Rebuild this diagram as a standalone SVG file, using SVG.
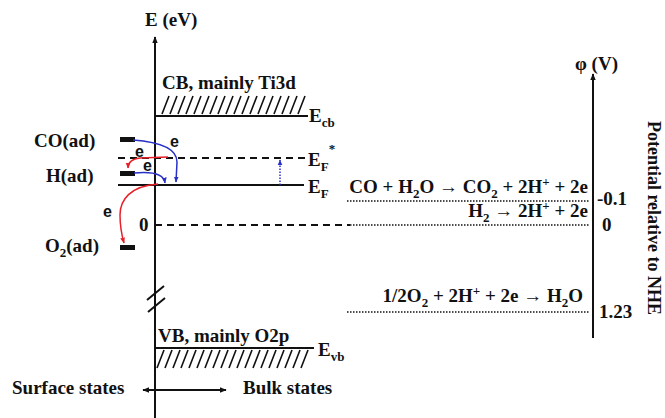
<svg xmlns="http://www.w3.org/2000/svg" width="665" height="418" viewBox="0 0 665 418">
<style>
text{font-family:"Liberation Serif","Times New Roman",serif;font-weight:bold;font-size:19px;fill:#111}
.sub{font-size:13px}
.e{font-family:"Liberation Sans",Arial,sans-serif;font-size:16px}
.rot{font-size:18px}
.ax{stroke:#111;stroke-width:2;fill:none}
.ln{stroke:#111;stroke-width:2;fill:none}
.dash{stroke:#111;stroke-width:1.8;stroke-dasharray:7 5;fill:none}
.dot{stroke:#111;stroke-width:1.6;stroke-dasharray:1.5 1.5;fill:none}
.hatch{stroke:#111;stroke-width:1.6;fill:none}
.bar{fill:#111}
.red{stroke:#e8202a;stroke-width:1.5;fill:none}
.blue{stroke:#2830c8;stroke-width:1.5;fill:none}
</style>
<defs>
<marker id="ah" viewBox="0 0 10 10" refX="9" refY="5" markerWidth="7" markerHeight="7" orient="auto-start-reverse" markerUnits="userSpaceOnUse"><path d="M0,1 L10,5 L0,9 z" fill="#111"/></marker>
<marker id="ahr" viewBox="0 0 10 10" refX="9" refY="5" markerWidth="6" markerHeight="6" orient="auto" markerUnits="userSpaceOnUse"><path d="M0,1 L10,5 L0,9 z" fill="#e8202a"/></marker>
<marker id="ahb" viewBox="0 0 10 10" refX="9" refY="5" markerWidth="6" markerHeight="6" orient="auto" markerUnits="userSpaceOnUse"><path d="M0,1 L10,5 L0,9 z" fill="#2830c8"/></marker>
</defs>

<g id="axes">
<line class="ax" x1="155" y1="418" x2="155" y2="37" marker-end="url(#ah)"/>
<text x="145" y="26">E (eV)</text>
<line class="ax" x1="593" y1="338" x2="593" y2="74" marker-end="url(#ah)"/>
<text x="575" y="70">φ (V)</text>
<text class="rot" transform="translate(648,218) rotate(90)" text-anchor="middle">Potential relative to NHE</text>
<path class="ln" d="M147,300 L164,286 M148,312 L165,298"/>
</g>

<g id="cb">
<text x="162" y="89">CB, mainly Ti3d</text>
<path class="hatch" d="M162,114 l7,-18 M170,114 l7,-18 M178,114 l7,-18 M186,114 l7,-18 M194,114 l7,-18 M202,114 l7,-18 M210,114 l7,-18 M218,114 l7,-18 M226,114 l7,-18 M234,114 l7,-18 M242,114 l7,-18 M250,114 l7,-18 M258,114 l7,-18 M266,114 l7,-18 M274,114 l7,-18 M282,114 l7,-18 M290,114 l7,-18 M298,114 l7,-18"/>
<line class="ln" x1="155" y1="116" x2="308" y2="116"/>
<text x="309" y="122">E<tspan class="sub" dy="5">cb</tspan></text>
</g>

<g id="vb">
<text x="158" y="342">VB, mainly O2p</text>
<line class="ln" x1="155" y1="348" x2="314" y2="348"/>
<path class="hatch" d="M157,368 l7,-18 M165,368 l7,-18 M173,368 l7,-18 M181,368 l7,-18 M189,368 l7,-18 M197,368 l7,-18 M205,368 l7,-18 M213,368 l7,-18 M221,368 l7,-18 M229,368 l7,-18 M237,368 l7,-18 M245,368 l7,-18 M253,368 l7,-18 M261,368 l7,-18 M269,368 l7,-18 M277,368 l7,-18 M285,368 l7,-18 M293,368 l7,-18 M301,368 l7,-18"/>
<text x="318" y="356">E<tspan class="sub" dy="5">vb</tspan></text>
</g>

<g id="fermi">
<line class="dash" x1="118" y1="158" x2="305" y2="158"/>
<text x="308" y="166">E<tspan class="sub" dy="5">F</tspan><tspan class="sub" dy="-18">*</tspan></text>
<line class="ln" x1="118" y1="185" x2="304" y2="185"/>
<text x="308" y="193">E<tspan class="sub" dy="5">F</tspan></text>
<text x="139" y="231">0</text>
<line class="dash" x1="155" y1="225" x2="350" y2="225"/>
<line class="dot" x1="350" y1="225" x2="589" y2="225"/>
</g>

<g id="adsorbates">
<text x="34" y="147">CO(ad)</text>
<rect class="bar" x="120" y="137" width="15" height="5"/>
<text x="46" y="182">H(ad)</text>
<rect class="bar" x="120" y="171" width="15" height="5"/>
<text x="45" y="252">O<tspan class="sub" dy="5">2</tspan><tspan dy="-5">(ad)</tspan></text>
<rect class="bar" x="120" y="245" width="15" height="5"/>
</g>

<g id="reactions">
<text x="588" y="193" text-anchor="end">CO + H<tspan class="sub" dy="5">2</tspan><tspan dy="-5">O → CO</tspan><tspan class="sub" dy="5">2</tspan><tspan dy="-5"> + 2H</tspan><tspan class="sub" dy="-7">+</tspan><tspan dy="7"> + 2e</tspan></text>
<line class="dot" x1="347" y1="201" x2="589" y2="201"/>
<text x="597" y="205">-0.1</text>
<text x="588" y="217" text-anchor="end">H<tspan class="sub" dy="5">2</tspan><tspan dy="-5"> → 2H</tspan><tspan class="sub" dy="-7">+</tspan><tspan dy="7"> + 2e</tspan></text>
<text x="602" y="231">0</text>
<text x="583" y="302" text-anchor="end">1/2O<tspan class="sub" dy="5">2</tspan><tspan dy="-5"> + 2H</tspan><tspan class="sub" dy="-7">+</tspan><tspan dy="7"> + 2e → H</tspan><tspan class="sub" dy="5">2</tspan><tspan dy="-5">O</tspan></text>
<line class="dot" x1="347" y1="312" x2="589" y2="312"/>
<text x="599" y="318">1.23</text>
</g>

<g id="states">
<text x="12" y="394">Surface states</text>
<line class="ln" x1="143" y1="390" x2="226" y2="390" stroke-width="1.6" marker-start="url(#ah)" marker-end="url(#ah)"/>
<text x="243" y="394">Bulk states</text>
</g>

<g id="connectors">
<path class="blue" d="M133,140 C160,142 177,148 177,162 L176,182" marker-end="url(#ahb)"/>
<path class="blue" d="M134,173 C155,171 164,175 165,183" marker-end="url(#ahb)"/>
<path class="red" d="M168,157 L140,158 C132,159 128,162 128,168" marker-end="url(#ahr)"/>
<path class="red" d="M158,184 C130,186 120,200 120,215 C120,228 122,236 124,243" marker-end="url(#ahr)"/>
<line stroke="#2830c8" stroke-width="1.5" stroke-dasharray="1.5 1.5" x1="280" y1="185" x2="280" y2="160" marker-end="url(#ahb)"/>
<text class="e" x="170" y="147">e</text>
<text class="e" x="135" y="157">e</text>
<text class="e" x="143" y="171">e</text>
<text class="e" x="103" y="217">e</text>
</g>
</svg>
